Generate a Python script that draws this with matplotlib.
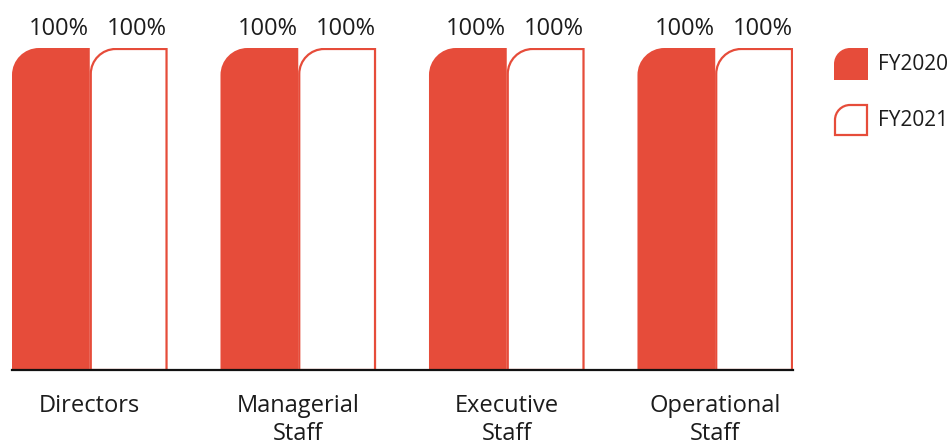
import matplotlib
matplotlib.use("Agg")
import matplotlib.pyplot as plt
from matplotlib.path import Path
from matplotlib.patches import PathPatch

plt.rcParams['font.family'] = ['Open Sans', 'DejaVu Sans']

categories = ['Directors', 'Managerial\nStaff', 'Executive\nStaff', 'Operational\nStaff']
fy2020 = [100, 100, 100, 100]
fy2021 = [100, 100, 100, 100]
series_names = ['FY2020', 'FY2021']

RED = '#E64C3A'
TEXT = '#1c1c1c'
K = 0.5523


def corner_path(x0, y0, w, h, rx, ry):
    """Rectangle with only the top-left corner rounded."""
    verts = [
        (x0, y0), (x0 + w, y0), (x0 + w, y0 + h), (x0 + rx, y0 + h),
        (x0 + rx - K * rx, y0 + h), (x0, y0 + h - ry + K * ry), (x0, y0 + h - ry),
        (x0, y0), (x0, y0),
    ]
    codes = [Path.MOVETO, Path.LINETO, Path.LINETO, Path.LINETO,
             Path.CURVE4, Path.CURVE4, Path.CURVE4,
             Path.LINETO, Path.CLOSEPOLY]
    return Path(verts, codes)


fig = plt.figure(figsize=(9.5, 4.41), dpi=100)
W, H = 950, 441
ax = fig.add_axes([12 / W, (H - 370) / H, (793 - 12) / W, (370 - 48) / H])

bw = 0.373
xs = list(range(len(categories)))
ax.set_xlim(-bw, xs[-1] + bw)
ax.set_ylim(0, 100)

# pixel size of one data unit, so the corner stays circular
px_x = (793 - 12) / (xs[-1] + 2 * bw)
px_y = (370 - 48) / 100
radius = 27

bars_a = ax.bar([x - bw / 2 for x in xs], fy2020, bw, color='none')
bars_b = ax.bar([x + bw / 2 for x in xs], fy2021, bw, color='none')

for bars, filled in ((bars_a, True), (bars_b, False)):
    for rect in bars:
        x0, y0 = rect.get_x(), rect.get_y()
        w, h = rect.get_width(), rect.get_height()
        if filled:
            p = PathPatch(corner_path(x0, y0, w, h, radius / px_x, radius / px_y),
                          facecolor=RED, edgecolor='none')
        else:
            inset_x, inset_y = 1 / px_x, 1 / px_y
            p = PathPatch(corner_path(x0 + inset_x, y0, w - 2 * inset_x, h - inset_y,
                                      (radius - 2) / px_x, (radius - 2) / px_y),
                          facecolor='white', edgecolor=RED, linewidth=1.6)
        ax.add_patch(p)
        ax.annotate(f'{h:.0f}%', (x0 + w / 2, h), xytext=(6, 9.5),
                    textcoords='offset points', ha='center', va='baseline',
                    fontsize=17, color=TEXT, annotation_clip=False)

for s in ['top', 'right', 'left']:
    ax.spines[s].set_visible(False)
ax.spines['bottom'].set_linewidth(1.6)
ax.spines['bottom'].set_color('#111111')
ax.set_yticks([])
ax.set_xticks(xs, categories, fontsize=17, color=TEXT, linespacing=1.22)
ax.tick_params(axis='x', length=0, pad=17)

# legend drawn in pixel coordinates
lg = fig.add_axes([0, 0, 1, 1], facecolor='none')
lg.set_xlim(0, W)
lg.set_ylim(H, 0)
lg.axis('off')
leg_items = [(48, True), (104, False)]
for (top, filled), name in zip(leg_items, series_names):
    if filled:
        lp = PathPatch(corner_path(834, top + 32, 34, -32, 16, -16),
                       facecolor=RED, edgecolor='none')
    else:
        lp = PathPatch(corner_path(835, top + 31, 32, -30, 15, -15),
                       facecolor='white', edgecolor=RED, linewidth=1.6)
    lg.add_patch(lp)
    lg.text(878, top + 17, name, fontsize=15, color=TEXT, va='center', ha='left')

fig.savefig('out.png', dpi=100)
